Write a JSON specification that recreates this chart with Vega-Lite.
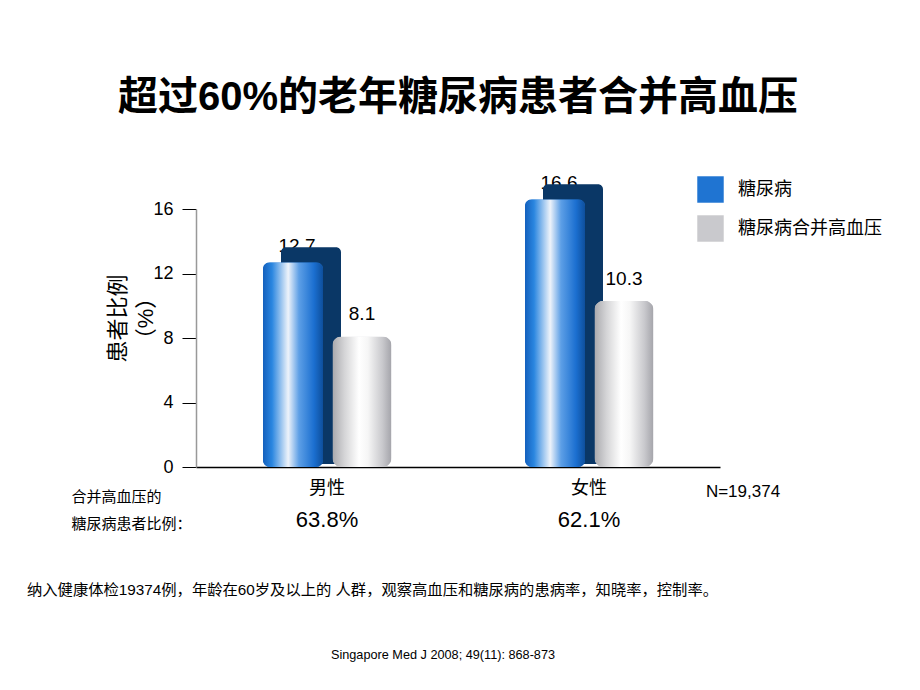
{
  "$schema": "https://vega.github.io/schema/vega-lite/v6.json",
  "width": 524,
  "height": 258,
  "autosize": {"type": "none"},
  "padding": {"left": 196, "top": 209, "right": 200, "bottom": 223},
  "background": "white",
  "config": {"view": {"stroke": null}, "font": "Liberation Sans, Noto Sans CJK SC"},
  "title": {
    "text": "超过60%的老年糖尿病患者合并高血压",
    "font": "Liberation Sans, Noto Sans CJK SC",
    "fontSize": 40,
    "fontWeight": "bold",
    "color": "black",
    "anchor": "middle",
    "frame": "group",
    "offset": 56
  },
  "datasets": {
    "bars": [
      {"sex": "男性", "series": "糖尿病", "value": 12.7},
      {"sex": "男性", "series": "糖尿病合并高血压", "value": 8.1},
      {"sex": "女性", "series": "糖尿病", "value": 16.6},
      {"sex": "女性", "series": "糖尿病合并高血压", "value": 10.3}
    ],
    "groups": [
      {"sex": "男性", "pct": "63.8%"},
      {"sex": "女性", "pct": "62.1%"}
    ],
    "sample": [{"note": "N=19,374"}],
    "footnote": [{"note": "纳入健康体检19374例，年龄在60岁及以上的 人群，观察高血压和糖尿病的患病率，知晓率，控制率。"}],
    "citation": [{"note": "Singapore Med J 2008; 49(11): 868-873"}]
  },
  "layer": [
    {
      "data": {"name": "bars"},
      "transform": [{"filter": "datum.series == '糖尿病'"}],
      "mark": {"type": "text", "fontSize": 19, "dx": -30, "dy": -16, "baseline": "middle", "align": "center", "color": "black"},
      "encoding": {
        "x": {
          "field": "sex", "type": "nominal", "sort": ["男性", "女性"],
          "scale": {"paddingInner": 0.5, "paddingOuter": 0.25},
          "axis": {
            "title": ["合并高血压的", "糖尿病患者比例："],
            "titleFontSize": 15, "titleFontWeight": "normal", "titleColor": "black",
            "titleX": -125, "titleY": 22, "titleAlign": "left", "titleAnchor": "start",
            "titleBaseline": "top", "titleLineHeight": 27, "titleAngle": 0,
            "labelFontSize": 18, "labelColor": "black", "labelPadding": 12, "labelAngle": 0,
            "ticks": false, "domainColor": "black", "domainWidth": 1.5
          }
        },
        "y": {
          "field": "value", "type": "quantitative",
          "scale": {"domain": [0, 16], "nice": false},
          "axis": {
            "values": [0, 4, 8, 12, 16], "format": "d",
            "title": ["患者比例", "（%）"],
            "titleFontSize": 22, "titleFontWeight": "normal", "titleColor": "black",
            "titleAngle": -90, "titleX": -89, "titleY": 109, "titleAlign": "center",
            "titleBaseline": "top", "titleLineHeight": 28,
            "labelFontSize": 18, "labelColor": "black", "labelPadding": 9,
            "tickSize": 14, "tickColor": "black", "tickWidth": 1,
            "domainColor": "#999999", "domainWidth": 1.5, "grid": false
          }
        },
        "text": {"field": "value", "type": "quantitative", "format": ".1f"}
      }
    },
    {
      "data": {"name": "bars"},
      "transform": [{"filter": "datum.series == '糖尿病合并高血压'"}],
      "mark": {"type": "text", "fontSize": 19, "dx": 35, "dy": -22, "baseline": "middle", "align": "center", "color": "black"},
      "encoding": {
        "x": {"field": "sex", "type": "nominal", "sort": ["男性", "女性"]},
        "y": {"field": "value", "type": "quantitative"},
        "text": {"field": "value", "type": "quantitative", "format": ".1f"}
      }
    },
    {
      "data": {"name": "bars"},
      "transform": [{"filter": "datum.series == '糖尿病'"}],
      "mark": {"type": "bar", "color": "#0a3766", "width": 60, "xOffset": -16, "yOffset": -15, "y2Offset": -3, "cornerRadius": 5},
      "encoding": {
        "x": {"field": "sex", "type": "nominal", "sort": ["男性", "女性"]},
        "y": {"field": "value", "type": "quantitative", "stack": null},
        "y2": {"datum": 0}
      }
    },
    {
      "data": {"name": "bars"},
      "transform": [{"filter": "datum.series == '糖尿病'"}],
      "mark": {"type": "bar", "width": 60, "xOffset": -34, "cornerRadius": 7},
      "encoding": {
        "x": {"field": "sex", "type": "nominal", "sort": ["男性", "女性"]},
        "y": {"field": "value", "type": "quantitative"},
        "color": {
          "field": "series", "type": "nominal",
          "scale": {"domain": ["糖尿病", "糖尿病合并高血压"], "range": ["#1f74d2", "#c9c9cd"]},
          "legend": {
            "title": null, "orient": "none", "legendX": 501, "legendY": -33,
            "symbolType": "square", "symbolSize": 700, "symbolStrokeWidth": 0, "symbolOpacity": 1,
            "labelFontSize": 18, "labelColor": "black", "labelOffset": 14, "rowPadding": 12
          }
        }
      }
    },
    {
      "data": {"name": "bars"},
      "transform": [{"filter": "datum.series == '糖尿病合并高血压'"}],
      "mark": {"type": "bar", "width": 59, "xOffset": 35, "cornerRadius": 9},
      "encoding": {
        "x": {"field": "sex", "type": "nominal", "sort": ["男性", "女性"]},
        "y": {"field": "value", "type": "quantitative"},
        "color": {"field": "series", "type": "nominal"}
      }
    },
    {
      "data": {"name": "bars"},
      "transform": [{"filter": "datum.series == '糖尿病'"}],
      "mark": {"type": "bar", "width": 60, "xOffset": -34, "cornerRadius": 7, "color": {"gradient": "linear", "x1": 0, "y1": 0, "x2": 1, "y2": 0, "stops": [
        {"offset": 0, "color": "#1360bd"},
        {"offset": 0.15, "color": "#2a86e0"},
        {"offset": 0.42, "color": "#eef3fa"},
        {"offset": 0.6, "color": "#5d9fe6"},
        {"offset": 0.85, "color": "#1b6fd0"},
        {"offset": 1, "color": "#0e4f9c"}
      ]}},
      "encoding": {
        "x": {"field": "sex", "type": "nominal", "sort": ["男性", "女性"]},
        "y": {"field": "value", "type": "quantitative"}
      }
    },
    {
      "data": {"name": "bars"},
      "transform": [{"filter": "datum.series == '糖尿病合并高血压'"}],
      "mark": {"type": "bar", "width": 59, "xOffset": 35, "cornerRadius": 9, "color": {"gradient": "linear", "x1": 0, "y1": 0, "x2": 1, "y2": 0, "stops": [
        {"offset": 0, "color": "#a9a9ad"},
        {"offset": 0.2, "color": "#d4d4d6"},
        {"offset": 0.45, "color": "#ffffff"},
        {"offset": 0.6, "color": "#f6f6f6"},
        {"offset": 0.85, "color": "#c8c8cc"},
        {"offset": 1, "color": "#a4a4aa"}
      ]}},
      "encoding": {
        "x": {"field": "sex", "type": "nominal", "sort": ["男性", "女性"]},
        "y": {"field": "value", "type": "quantitative"}
      }
    },
    {
      "data": {"name": "groups"},
      "mark": {"type": "text", "fontSize": 22, "dy": 53, "baseline": "middle", "align": "center", "color": "black"},
      "encoding": {
        "x": {"field": "sex", "type": "nominal", "sort": ["男性", "女性"]},
        "y": {"datum": 0, "type": "quantitative"},
        "text": {"field": "pct", "type": "nominal"}
      }
    },
    {
      "data": {"name": "sample"},
      "mark": {"type": "text", "fontSize": 17, "dx": 154, "dy": 25, "baseline": "middle", "align": "center", "color": "black"},
      "encoding": {
        "x": {"datum": "女性", "type": "nominal"},
        "y": {"datum": 0, "type": "quantitative"},
        "text": {"field": "note", "type": "nominal"}
      }
    },
    {
      "data": {"name": "footnote"},
      "mark": {"type": "text", "fontSize": 15.3, "dx": -300, "dy": 123, "baseline": "middle", "align": "left", "color": "black"},
      "encoding": {
        "x": {"datum": "男性", "type": "nominal"},
        "y": {"datum": 0, "type": "quantitative"},
        "text": {"field": "note", "type": "nominal"}
      }
    },
    {
      "data": {"name": "citation"},
      "mark": {"type": "text", "fontSize": 12.7, "dx": 116, "dy": 188, "baseline": "middle", "align": "center", "color": "black"},
      "encoding": {
        "x": {"datum": "男性", "type": "nominal"},
        "y": {"datum": 0, "type": "quantitative"},
        "text": {"field": "note", "type": "nominal"}
      }
    }
  ]
}
